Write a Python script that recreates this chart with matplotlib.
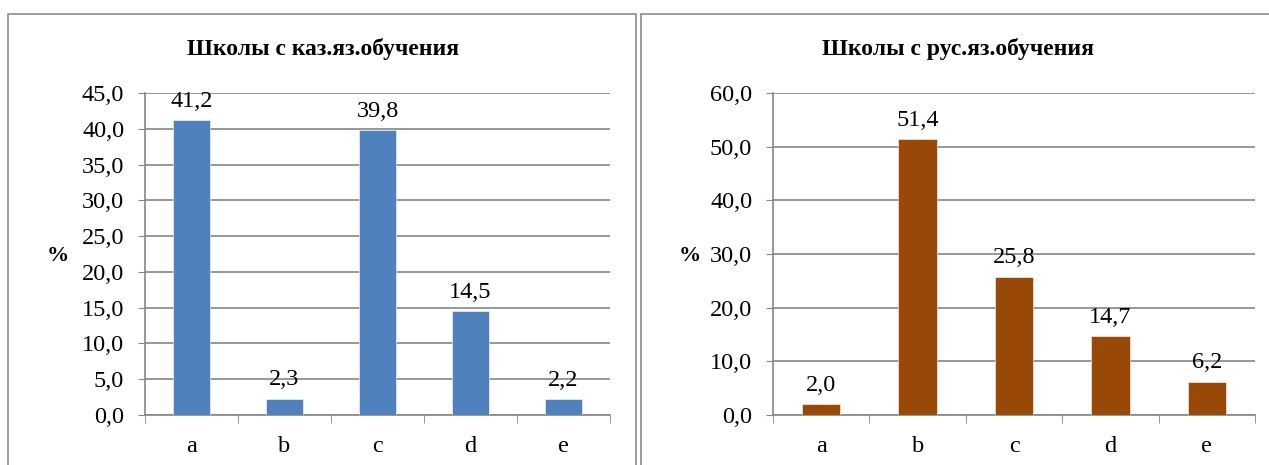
import matplotlib
matplotlib.use("Agg")
import matplotlib.pyplot as plt
from matplotlib.patches import Rectangle
from matplotlib.ticker import FuncFormatter

plt.rcParams['font.family'] = ['Liberation Serif', 'DejaVu Serif']

categories = ['a', 'b', 'c', 'd', 'e']
kaz_values = [41.2, 2.3, 39.8, 14.5, 2.2]
rus_values = [2.0, 51.4, 25.8, 14.7, 6.2]
titles = ['Школы с каз.яз.обучения', 'Школы с рус.яз.обучения']

W, H = 1269, 465
fig = plt.figure(figsize=(W / 100, H / 100), dpi=100)
FS = 17.5

# panel frames (pixel coords -> figure coords)
def frame(x0, y0, x1, y1):
    fig.patches.append(Rectangle((x0 / W, 1 - y1 / H), (x1 - x0) / W, (y1 - y0) / H,
                                 transform=fig.transFigure, fill=False,
                                 edgecolor='#8c8c8c', linewidth=1.2))

frame(8, 14, 636, 480)
frame(641, 14, 1290, 480)

comma = FuncFormatter(lambda v, p: f'{v:.1f}'.replace('.', ','))
grid_c = '#868686'

def panel(x0, x1, values, color, ymax, step, title, title_x, pct_x):
    ax = fig.add_axes([x0 / W, (H - 415) / H, (x1 - x0) / W, 322 / H])
    xs = range(len(values))
    ax.bar(xs, values, width=0.4, color=color, edgecolor='#ffffff', linewidth=0.4, zorder=3)
    for x, v in zip(xs, values):
        ax.annotate(f'{v:.1f}'.replace('.', ','), (x, v), xytext=(0, 6),
                    textcoords='offset points', ha='center', va='bottom', fontsize=FS)
    ax.set_xlim(-0.5, len(values) - 0.5)
    ax.set_ylim(0, ymax)
    ax.set_yticks([i * step for i in range(int(ymax / step) + 1)])
    ax.yaxis.set_major_formatter(comma)
    ax.set_xticks(list(xs))
    ax.set_xticklabels(categories)
    ax.set_xticks([i - 0.5 for i in range(len(values) + 1)], minor=True)
    ax.tick_params(axis='x', which='major', length=0, pad=15, labelsize=FS)
    ax.tick_params(axis='x', which='minor', length=6, color=grid_c, direction='out')
    ax.tick_params(axis='y', length=5, color=grid_c, labelsize=FS, pad=10)
    ax.grid(axis='y', color=grid_c, linewidth=1.2, zorder=0)
    for s in ('top', 'right'):
        ax.spines[s].set_visible(False)
    for s in ('left', 'bottom'):
        ax.spines[s].set_color(grid_c)
        ax.spines[s].set_linewidth(1.2)
    fig.text(title_x / W, 1 - 49 / H, title,
             ha='center', va='center', fontsize=17, fontweight='bold')
    fig.text(pct_x / W, 1 - 256 / H, '%', ha='center', va='center', fontsize=16, fontweight='bold')
    return ax

panel(145, 610, kaz_values, '#4F81BD', 45, 5, titles[0], 323, 58)
panel(773, 1255, rus_values, '#984807', 60, 10, titles[1], 958, 690)

fig.savefig('out.png', dpi=100)
